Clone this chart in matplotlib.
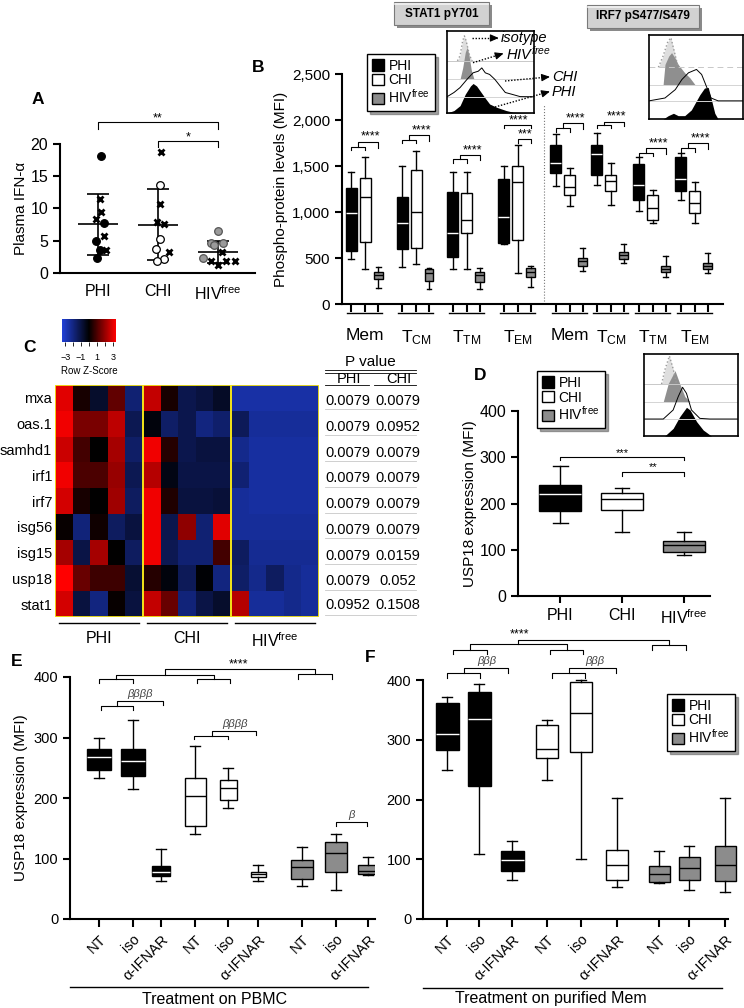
import numpy as np
import matplotlib
matplotlib.use("Agg")
import matplotlib.pyplot as plt
import matplotlib.transforms as mtransforms
from matplotlib.colors import LinearSegmentedColormap
from matplotlib.patches import Patch, Rectangle
from matplotlib.ticker import FuncFormatter

plt.rcParams['font.family'] = ['Liberation Sans', 'DejaVu Sans']
plt.rcParams['mathtext.fontset'] = 'custom'
plt.rcParams['mathtext.rm'] = 'Liberation Sans'
plt.rcParams['mathtext.it'] = 'Liberation Sans:italic'

HIVF = "HIV$^{\\mathregular{free}}$"
groups = ["PHI", "CHI", HIVF]

# --- A: plasma IFN-a (dots / crosses) ---
ifn_phi = [18.2, 11.4, 9.5, 8.3, 7.8, 5.8, 5.0, 3.6, 3.5, 2.3]
ifn_phi_kind = ['o', 'x', 'x', 'x', 'o', 'x', 'o', 'o', 'x', 'o']
ifn_phi_dx = [0.06, 0.04, 0.06, -0.03, 0.11, 0.11, -0.03, 0.04, 0.13, -0.01]
ifn_chi = [18.7, 13.6, 10.7, 7.9, 7.6, 5.2, 3.7, 3.2, 2.1, 1.9]
ifn_chi_kind = ['x', 'o', 'x', 'x', 'x', 'o', 'o', 'x', 'o', 'o']
ifn_chi_dx = [0.06, 0.04, 0.04, -0.02, 0.11, 0.04, -0.03, 0.18, 0.10, -0.01]
ifn_hiv = [6.5, 4.7, 4.4, 4.7, 2.4, 3.2, 1.9, 1.3, 1.8, 1.9]
ifn_hiv_kind = ['o', 'o', 'o', 'o', 'o', 'x', 'x', 'x', 'x', 'x']
ifn_hiv_dx = [0.01, -0.12, -0.06, 0.08, -0.25, 0.07, -0.11, 0.01, 0.14, 0.28]

# --- B: phospho-protein MFI, (whislo, q1, med, q3, whishi) per subset ---
subsets = ["Mem", "T$_{\\mathregular{CM}}$", "T$_{\\mathregular{TM}}$", "T$_{\\mathregular{EM}}$"] * 2
b_phi = [(486, 580, 993, 1264, 1438), (402, 601, 884, 1159, 1504), (384, 514, 775, 1221, 1438),
         (652, 659, 942, 1359, 1504), (1283, 1420, 1536, 1732, 1848), (1293, 1406, 1630, 1728, 1855),
         (1011, 1130, 1293, 1522, 1594), (1130, 1232, 1355, 1601, 1645)]
b_chi = [(384, 678, 1159, 1373, 1601), (431, 612, 996, 1457, 1667), (384, 768, 913, 1203, 1438),
         (333, 696, 1322, 1500, 1728), (1065, 1181, 1268, 1402, 1475), (1076, 1228, 1337, 1402, 1536),
         (877, 913, 1047, 1185, 1239), (877, 986, 1094, 1232, 1330)]
b_hiv = [(170, 268, 312, 351, 399), (159, 254, 333, 384, 388), (167, 236, 319, 351, 388),
         (181, 290, 351, 388, 417), (362, 417, 471, 504, 605), (449, 493, 529, 569, 652),
         (297, 351, 384, 417, 522), (333, 377, 417, 442, 551)]

# --- C: heatmap row z-scores (5 PHI, 5 CHI, 5 HIVfree) ---
genes = ["mxa", "oas.1", "samhd1", "irf1", "irf7", "isg56", "isg15", "usp18", "stat1"]
zscores = [
    [3.0, 0.3, -0.7, 1.3, -1.8, 2.6, 0.3, -1.2, -1.0, -0.6, -2.6, -2.6, -2.6, -2.6, -2.6],
    [3.2, 1.6, 1.6, 2.5, -1.3, -0.2, -1.6, -1.2, -2.0, -1.7, -1.4, -2.4, -2.4, -2.4, -2.4],
    [2.7, 0.9, 0.0, 2.2, -1.6, 3.2, 0.5, -1.2, -1.0, -1.0, -2.2, -2.5, -2.5, -2.5, -2.5],
    [3.2, 1.0, 1.0, 2.0, -1.3, 2.4, -0.3, -1.1, -1.1, -1.1, -1.8, -2.5, -2.5, -2.5, -2.5],
    [2.8, 0.3, 0.0, 2.1, -1.5, 3.2, 0.4, -1.0, -1.0, -0.9, -2.4, -2.5, -2.5, -2.5, -2.5],
    [0.1, -1.9, 0.2, -1.5, -1.0, 3.2, -1.2, 1.9, -1.8, 3.0, -2.4, -2.4, -2.4, -2.4, -2.4],
    [2.2, -1.1, 2.2, 0.0, -1.5, 3.2, -1.3, -1.8, -1.8, 0.9, -1.5, -2.3, -2.3, -2.3, -2.3],
    [3.4, 1.4, 0.8, 0.8, -0.8, 0.5, -0.2, -1.4, -0.1, -2.0, -1.6, -2.2, -1.5, -2.2, -2.4],
    [2.8, -1.0, -2.0, 0.1, -1.0, 2.6, 1.4, -1.9, -1.1, -0.7, 2.4, -2.4, -2.4, -2.2, -2.4],
]
p_phi = ["0.0079"] * 8 + ["0.0952"]
p_chi = ["0.0079", "0.0952", "0.0079", "0.0079", "0.0079", "0.0079", "0.0159", "0.052", "0.1508"]

# --- D: USP18 MFI ---
d_stats = [(157, 184, 220, 240, 281), (139, 187, 209, 223, 233), (89, 95, 110, 120, 139)]

# --- E / F: USP18 after treatment ---
treatments = ["NT", "iso", "\u03b1-IFNAR"] * 3
e_stats = [(233, 247, 268, 281, 299), (215, 237, 261, 281, 329), (63, 71, 77, 87, 115),
           (141, 154, 204, 233, 286), (184, 196, 217, 229, 249), (63, 69, 74, 78, 90),
           (54, 66, 86, 97, 119), (48, 78, 109, 127, 140), (73, 74, 79, 89, 102)]
f_stats = [(249, 283, 310, 362, 371), (109, 223, 334, 380, 394), (65, 80, 99, 113, 131),
           (232, 270, 285, 325, 333), (101, 280, 345, 397, 400), (54, 66, 90, 115, 202),
           (61, 62, 75, 89, 114), (48, 65, 85, 103, 122), (45, 64, 91, 122, 202)]

# --- flow histograms (x, y in inset units; lanes: isotype, HIVfree, CHI, PHI) ---
hist_stat1 = {
    "iso": ([0.12, 0.15, 0.18, 0.20, 0.22, 0.26, 0.29], [0.636, 0.70, 0.88, 0.94, 0.88, 0.70, 0.636]),
    "hiv": ([0.15, 0.18, 0.21, 0.23, 0.25, 0.28, 0.31], [0.413, 0.55, 0.74, 0.80, 0.72, 0.52, 0.413]),
    "chi": ([0.0, 0.08, 0.15, 0.23, 0.30, 0.36, 0.40, 0.44, 0.49, 0.55, 0.61, 0.67, 0.74, 0.84, 1.0],
            [0.198, 0.25, 0.31, 0.41, 0.49, 0.51, 0.55, 0.49, 0.47, 0.41, 0.33, 0.25, 0.23, 0.20, 0.198]),
    "phi": ([0.0, 0.08, 0.15, 0.21, 0.27, 0.30, 0.34, 0.38, 0.44, 0.49, 0.57, 0.68, 0.76, 1.0],
            [0.0, 0.03, 0.09, 0.23, 0.33, 0.36, 0.33, 0.27, 0.18, 0.11, 0.07, 0.03, 0.01, 0.0]),
}
hist_irf7 = {
    "iso": ([0.10, 0.15, 0.20, 0.233, 0.27, 0.31], [0.616, 0.75, 0.92, 0.968, 0.80, 0.616]),
    "hiv": ([0.15, 0.17, 0.21, 0.24, 0.28, 0.31, 0.38, 0.435, 0.49],
            [0.408, 0.65, 0.75, 0.79, 0.72, 0.65, 0.55, 0.49, 0.408]),
    "chi": ([0.0, 0.17, 0.28, 0.35, 0.42, 0.505, 0.56, 0.61, 0.66, 0.735, 1.0],
            [0.216, 0.25, 0.35, 0.47, 0.55, 0.59, 0.53, 0.39, 0.25, 0.216, 0.216]),
    "phi": ([0.15, 0.205, 0.26, 0.31, 0.38, 0.45, 0.49, 0.54, 0.59, 0.63, 0.66, 0.70, 0.735],
            [0.0, 0.04, 0.068, 0.04, 0.04, 0.108, 0.188, 0.288, 0.368, 0.376, 0.248, 0.068, 0.0]),
}
hist_usp18 = {
    "iso": ([0.187, 0.22, 0.27, 0.31, 0.346], [0.634, 0.80, 0.976, 0.82, 0.634]),
    "hiv": ([0.205, 0.258, 0.33, 0.38, 0.435, 0.49], [0.419, 0.64, 0.797, 0.64, 0.48, 0.419]),
    "chi": ([0.0, 0.205, 0.31, 0.364, 0.41, 0.452, 0.505, 0.594, 0.70, 1.0],
            [0.207, 0.207, 0.317, 0.48, 0.594, 0.52, 0.317, 0.215, 0.207, 0.207]),
    "phi": ([0.22, 0.31, 0.38, 0.452, 0.49, 0.56, 0.63, 0.717],
            [0.0, 0.093, 0.236, 0.35, 0.317, 0.175, 0.073, 0.0]),
}

GRAY = '#8c8c8c'
W, H = 744, 1008


def px_box(l, t, r, b):
    return [l / W, 1 - b / H, (r - l) / W, (b - t) / H]


def style_axes(ax, lw=1.5, size=11):
    for s in ['top', 'right']:
        ax.spines[s].set_visible(False)
    for s in ['left', 'bottom']:
        ax.spines[s].set_linewidth(lw)
    ax.tick_params(direction='out', width=lw, length=5, labelsize=size)


def to_stats(rows):
    return [dict(whislo=r[0], q1=r[1], med=r[2], q3=r[3], whishi=r[4], fliers=[]) for r in rows]


def boxes(ax, rows, pos, widths, face, med, capw, lw=1.0):
    ax.bxp(to_stats(rows), positions=pos, widths=widths, patch_artist=True, showfliers=False,
           capwidths=capw, manage_ticks=False,
           boxprops=dict(facecolor=face, edgecolor='black', linewidth=lw),
           medianprops=dict(color=med, linewidth=lw),
           whiskerprops=dict(color='black', linewidth=lw),
           capprops=dict(color='black', linewidth=lw))


def bracket(ax, x1, x2, y, drop, lw=0.8, color='black'):
    ax.plot([x1, x1, x2, x2], [y - drop, y, y, y - drop], color=color, lw=lw, clip_on=False)


def stars(ax, x, y, txt, size=9, **kw):
    ax.annotate(txt, (x, y), xytext=(0, 0.5), textcoords='offset points', ha='center',
                va='baseline', fontsize=size, annotation_clip=False, **kw)


def hist_inset(rect, curves, dashed_iso=False):
    ax = fig.add_axes(rect)
    base = {"iso": curves["iso"][1][0], "hiv": curves["hiv"][1][0], "chi": curves["chi"][1][0], "phi": 0}
    ax.axhline(base["iso"], color='#c8c8c8', lw=0.7, ls=(0, (6, 4)) if dashed_iso else '-')
    ax.axhline(base["hiv"], color='#d4d4d4', lw=0.7)
    ax.axhline(base["chi"], color='#d4d4d4', lw=0.7)
    x, y = curves["iso"]
    ax.fill_between(x, base["iso"], y, color='#dedede', lw=0)
    ax.plot(x, y, color='#9a9a9a', ls=':', lw=1.0)
    x, y = curves["hiv"]
    ax.fill_between(x, base["hiv"], y, color='#8f8f8f', lw=0)
    x, y = curves["phi"]
    ax.fill_between(x, 0, y, color='black', lw=0)
    x, y = curves["chi"]
    ax.plot(x, y, color='black', lw=0.7)
    ax.set_xlim(0, 1)
    ax.set_ylim(0, 1)
    ax.set_xticks([])
    ax.set_yticks([])
    for s in ax.spines.values():
        s.set_linewidth(1.2)
    return ax


def legend_at(x, y):
    handles = [Patch(facecolor='black', edgecolor='black'),
               Patch(facecolor='white', edgecolor='black'),
               Patch(facecolor=GRAY, edgecolor='black')]
    fig.legend(handles, groups, loc='upper left', bbox_to_anchor=(x / W, 1 - y / H),
               fontsize=10, handlelength=0.9, handleheight=0.9, handletextpad=0.3,
               labelspacing=0.05, borderpad=0.35, fancybox=False, shadow=True,
               edgecolor='black', framealpha=1)


fig = plt.figure(figsize=(7.44, 10.08), dpi=100)

# ================= A =================
axA = fig.add_axes(px_box(60, 144, 255, 273))
style_axes(axA, size=11.5)
faces = ['black', 'white', '#9a9a9a']
edges = ['black', 'black', '#555555']
for i, (vals, kinds, dx) in enumerate([(ifn_phi, ifn_phi_kind, ifn_phi_dx),
                                       (ifn_chi, ifn_chi_kind, ifn_chi_dx),
                                       (ifn_hiv, ifn_hiv_kind, ifn_hiv_dx)]):
    for v, k, d in zip(vals, kinds, dx):
        if k == 'x':
            axA.plot(i + d, v, marker='x', color='black', ms=4.5, mew=2.0, ls='none', zorder=4)
        else:
            axA.plot(i + d, v, marker='o', mfc=faces[i], mec=edges[i], mew=0.9, ms=5.5,
                     ls='none', zorder=4)
    m = np.mean(vals)
    s = np.std(vals, ddof=1)
    axA.hlines(m, i - 0.33, i + 0.33, color='black', lw=1.2, zorder=3)
    axA.vlines(i, m - s, m + s, color='black', lw=1.2, zorder=3)
    axA.hlines([m - s, m + s], i - 0.18, i + 0.18, color='black', lw=1.2, zorder=3)
axA.set_xlim(-0.63, 2.62)
axA.set_ylim(0, 20)
axA.set_yticks([0, 5, 10, 15, 20])
axA.set_xticks([0, 1, 2])
axA.set_xticklabels(groups, fontsize=11.5)
axA.tick_params(axis='x', length=0, pad=8)
axA.set_ylabel("Plasma IFN-\u03b1", fontsize=11, labelpad=2)
bracket(axA, 0, 2, 23.4, 1.0)
stars(axA, 1, 23.4, "**")
bracket(axA, 1, 2, 20.5, 1.0)
stars(axA, 1.5, 20.5, "*")

# ================= B =================
axB = fig.add_axes(px_box(342, 74, 723, 304))
style_axes(axB, size=11)
centers = [365, 416, 467, 518, 570, 611, 653, 695]
offs = [-14, 0, 13]
boxes(axB, b_phi, [c + offs[0] for c in centers], 11, 'black', 'white', 6)
boxes(axB, b_chi, [c + offs[1] for c in centers], 11, 'white', 'black', 6)
boxes(axB, b_hiv, [c + offs[2] for c in centers], 9, GRAY, 'black', 5)
axB.set_xlim(342, 723)
axB.set_ylim(0, 2500)
axB.set_yticks([0, 500, 1000, 1500, 2000, 2500])
axB.yaxis.set_major_formatter(FuncFormatter(lambda v, p: f"{v:,.0f}"))
axB.set_xticks([c + o for c in centers for o in offs])
axB.set_xticklabels([])
axB.tick_params(axis='x', length=6)
axB.set_ylabel("Phospho-protein levels (MFI)", fontsize=11, labelpad=3)
axB.axvline(544, ymax=0.87, color='#777777', lw=0.8, ls=':')
tB = mtransforms.blended_transform_factory(axB.transData, axB.transAxes)
for c, lab in zip(centers, subsets):
    axB.plot([c - 18, c + 17], [-0.04, -0.04], color='black', lw=1.0, transform=tB, clip_on=False)
    axB.text(c, -0.105, lab, transform=tB, ha='center', va='top', fontsize=12.5)
# significance (two-level brackets)
b_sig = [(0, 1710, 1764), (1, 1783, 1837), (2, 1572, 1620),
         (4, 1909, 1964), (5, 1946, 1982), (6, 1645, 1692), (7, 1692, 1746)]
for gi, ya, yb in b_sig:
    xa, xb, xc = centers[gi] + offs[0], centers[gi] + offs[1], centers[gi] + offs[2]
    bracket(axB, xa, xb, ya, 36)
    xm = (xa + xb) / 2
    axB.plot([xm, xm, xc, xc], [ya, yb, yb, ya - 10], color='black', lw=0.8, clip_on=False)
    stars(axB, (xm + xc) / 2 + 2, yb + 12, "****")
bracket(axB, centers[3] + offs[0], centers[3] + offs[2], 1946, 36)
stars(axB, centers[3], 1958, "****")
bracket(axB, centers[3] + offs[1], centers[3] + offs[2], 1790, 36)
stars(axB, centers[3] + 7, 1802, "***")

hist_inset(px_box(447, 31, 534, 113), hist_stat1)
hist_inset(px_box(649, 35, 743, 119), hist_irf7, dashed_iso=True)
legend_at(360, 47)

# ================= C =================
cmap = LinearSegmentedColormap.from_list("bkr", ["#2040d8", "#000000", "#ff0000"])
axC = fig.add_axes(px_box(55, 385, 319, 617))
im = axC.imshow(np.array(zscores), cmap=cmap, vmin=-3.4, vmax=3.4, aspect='auto',
                interpolation='nearest')
for g in range(3):
    axC.add_patch(Rectangle((g * 5 - 0.5, -0.5), 5, len(genes), fill=False,
                            edgecolor='#f2e21a', lw=1.3, zorder=3))
axC.set_yticks(range(len(genes)))
axC.set_yticklabels(genes, fontsize=10.5)
axC.set_xticks([])
axC.tick_params(axis='y', length=0, pad=2)
for s in axC.spines.values():
    s.set_visible(False)
tC = mtransforms.blended_transform_factory(axC.transData, axC.transAxes)
for g, lab in enumerate(groups):
    axC.plot([g * 5 - 0.3, g * 5 + 4.3], [-0.026, -0.026], color='black', lw=1.0,
             transform=tC, clip_on=False)
    axC.text(g * 5 + 2, -0.06, lab, transform=tC, ha='center', va='top', fontsize=11.5)

cax = fig.add_axes(px_box(62, 319, 116, 342))
cb = fig.colorbar(im, cax=cax, orientation='horizontal', ticks=[-3, -1, 1, 3])
cb.outline.set_visible(False)
cb.ax.set_xticks([-2, 0, 2], minor=True)
cb.ax.tick_params(which='both', length=3, width=0.6, labelsize=6.5, pad=5)
cb.set_label("Row Z-Score", fontsize=7, labelpad=3)

# P value table aligned with heatmap rows
axT = fig.add_axes(px_box(325, 385, 416, 617))
axT.set_xlim(0, 1)
axT.set_ylim(len(genes) - 0.5, -0.5)
axT.axis('off')
for i, (a, b) in enumerate(zip(p_phi, p_chi)):
    y = i + 0.12 if i < len(genes) - 1 else i + 0.05
    axT.text(0.25, y, a, ha='center', va='center', fontsize=10.5)
    axT.text(0.80, y, b, ha='center', va='center', fontsize=10.5)
    yl = i + 0.45 if i < len(genes) - 1 else i + 0.42
    axT.plot([0, 1], [yl, yl], color='#c8c8c8', lw=0.6, clip_on=False)

# ================= D =================
axD = fig.add_axes(px_box(518, 411, 710, 596))
style_axes(axD, size=11.5)
for i, (face, med) in enumerate([('black', 'white'), ('white', 'black'), (GRAY, 'black')]):
    boxes(axD, [d_stats[i]], [i], 0.67, face, med, 0.24)
axD.set_xlim(-0.68, 2.42)
axD.set_ylim(0, 400)
axD.set_yticks([0, 100, 200, 300, 400])
axD.set_xticks([0, 1, 2])
axD.set_xticklabels(groups, fontsize=11.5)
axD.set_ylabel("USP18 expression (MFI)", fontsize=11, labelpad=2)
bracket(axD, 0, 2, 301, 7)
stars(axD, 1, 302, "***", size=8)
bracket(axD, 1, 2, 269, 10)
stars(axD, 1.5, 270, "**", size=8)
hist_inset(px_box(644, 354, 738, 436), hist_usp18)
legend_at(530, 364)

# ================= E =================
e_pos = [99, 133, 161, 195, 228, 258, 302, 336, 368]
e_w = [24, 24, 18, 21, 17, 15, 22, 22, 20]
axE = fig.add_axes(px_box(70, 677, 375, 919))
style_axes(axE, size=10.5)
boxes(axE, e_stats[0:3], e_pos[0:3], e_w[0:3], 'black', 'white', 10)
boxes(axE, e_stats[3:6], e_pos[3:6], e_w[3:6], 'white', 'black', 10)
boxes(axE, e_stats[6:9], e_pos[6:9], e_w[6:9], GRAY, 'black', 10)
axE.set_xlim(70, 375)
axE.set_ylim(0, 400)
axE.set_yticks([0, 100, 200, 300, 400])
axE.set_xticks(e_pos)
axE.set_xticklabels(treatments, rotation=45, ha='right', rotation_mode='anchor', fontsize=10.5)
axE.tick_params(axis='x', length=6)
axE.set_ylabel("USP18 expression (MFI)", fontsize=11, labelpad=4)
beta = dict(style='italic', color='#444444')
bracket(axE, 101, 133, 352, 6)
axE.plot([117, 117, 163, 163], [352, 360, 360, 353], color='black', lw=0.8)
stars(axE, 140, 366, "\u03b2\u03b2\u03b2\u03b2", size=8, **beta)
bracket(axE, 194, 228, 303, 6)
axE.plot([212, 212, 256, 256], [303, 311, 311, 304], color='black', lw=0.8)
stars(axE, 235, 317, "\u03b2\u03b2\u03b2\u03b2", size=8, **beta)
bracket(axE, 336, 367, 160, 7)
stars(axE, 351, 166, "\u03b2", size=8, **beta)
bracket(axE, 99, 133, 396, 6)
bracket(axE, 197, 230, 396, 6)
bracket(axE, 298, 332, 405.5, 8.5)
bracket(axE, 116, 213.5, 404, 8)
axE.plot([165, 165, 315, 315], [404, 412.6, 412.6, 405.5], color='black', lw=0.8, clip_on=False)
stars(axE, 238, 414, "****")

# ================= F =================
f_pos = [447, 479, 512, 547, 581, 617, 659, 689, 725]
axF = fig.add_axes(px_box(423, 680, 728, 919))
style_axes(axF, size=10.5)
boxes(axF, f_stats[0:3], f_pos[0:3], 23, 'black', 'white', 10)
boxes(axF, f_stats[3:6], f_pos[3:6], 22, 'white', 'black', 10)
boxes(axF, f_stats[6:9], f_pos[6:9], 21, GRAY, 'black', 10)
for art in axF.patches + axF.lines:
    art.set_clip_on(False)
axF.set_xlim(423, 728)
axF.set_ylim(0, 400)
axF.set_yticks([0, 100, 200, 300, 400])
axF.set_xticks(f_pos)
axF.set_xticklabels(treatments, rotation=45, ha='right', rotation_mode='anchor', fontsize=10.5)
axF.tick_params(axis='x', length=6)
bracket(axF, 447, 480, 411, 8)
axF.plot([463.5, 463.5, 508, 508], [411, 420, 420, 412], color='black', lw=0.8, clip_on=False)
stars(axF, 487, 425, "\u03b2\u03b2\u03b2", size=8, **beta)
bracket(axF, 552, 585, 411, 8)
axF.plot([569, 569, 616, 616], [411, 420, 420, 412], color='black', lw=0.8, clip_on=False)
stars(axF, 595, 425, "\u03b2\u03b2\u03b2", size=8, **beta)
bracket(axF, 453, 487, 451, 8)
bracket(axF, 550, 583, 451, 8)
bracket(axF, 652, 686, 459, 8)
bracket(axF, 470, 567, 460, 9)
axF.plot([518, 518, 669, 669], [460, 467, 467, 459], color='black', lw=0.8, clip_on=False)
stars(axF, 519, 470, "****")
legend_at(660, 687)

# ================= overlay: letters, headers, arrows, labels =================
ov = fig.add_axes([0, 0, 1, 1], zorder=20)
ov.set_xlim(0, W)
ov.set_ylim(H, 0)
ov.axis('off')
for lab, x, y in [("A", 38, 100), ("B", 258, 68), ("C", 29, 347), ("D", 480, 375),
                  ("E", 17, 662), ("F", 370, 657)]:
    ov.text(x, y, lab, fontsize=12.5, fontweight='bold', ha='center', va='center')

for txt, l, t, r, b in [("STAT1 pY701", 394, 2, 489, 25), ("IRF7 pS477/S479", 587, 5, 699, 28)]:
    ov.add_patch(Rectangle((l + 3, t + 3), r - l, b - t, facecolor='#8a8a8a', edgecolor='none'))
    ov.add_patch(Rectangle((l, t), r - l, b - t, facecolor='#d2d2d2', edgecolor='#7a7a7a', lw=0.8))
    ov.plot([l + 1, r - 1], [t + 1.5, t + 1.5], color='#f2f2f2', lw=1.2)
    ov.text((l + r) / 2, (t + b) / 2, txt, ha='center', va='center', fontsize=8.5, fontweight='bold')

arrows = [("isotype", (471.7, 38), (496.7, 38)),
          ("$\\mathit{HIV}^{\\mathit{free}}$", (473, 62.7), (501.7, 54)),
          ("CHI", (505, 81), (548, 77)),
          ("PHI", (495, 107), (548, 92))]
for txt, (x0, y0), (x1, y1) in arrows:
    ov.plot([x0, x1], [y0, y1], color='black', lw=1.0, ls=(0, (1, 1.2)))
    ux, uy = (x1 - x0), (y1 - y0)
    n = np.hypot(ux, uy)
    ov.annotate('', xy=(x1 + 2 * ux / n, y1 + 2 * uy / n), xytext=(x1 - 5 * ux / n, y1 - 5 * uy / n),
                arrowprops=dict(arrowstyle='-|>,head_length=0.5,head_width=0.22', color='black',
                                lw=0.8, shrinkA=0, shrinkB=0))
    ov.text(x1 + 4, y1, txt, ha='left', va='center', fontsize=10.5, style='italic')

# P value header
ov.text(370, 362, "P value", ha='center', va='center', fontsize=11)
ov.plot([325, 416], [370, 370], color='black', lw=0.6)
ov.plot([325, 416], [372.5, 372.5], color='black', lw=0.6)
ov.text(349, 379, "PHI", ha='center', va='center', fontsize=10.5)
ov.text(399, 379, "CHI", ha='center', va='center', fontsize=10.5)
ov.plot([325, 369], [385, 385], color='black', lw=0.6)
ov.plot([374, 416], [385, 385], color='black', lw=0.6)

# treatment captions
ov.plot([70, 368], [987, 987], color='black', lw=1.0)
ov.text(215, 1000, "Treatment on PBMC", ha='center', va='center', fontsize=11.5)
ov.plot([423, 722], [988, 988], color='black', lw=1.0)
ov.text(551, 999, "Treatment on purified Mem", ha='center', va='center', fontsize=11.5)

fig.savefig("out.png", dpi=100)
